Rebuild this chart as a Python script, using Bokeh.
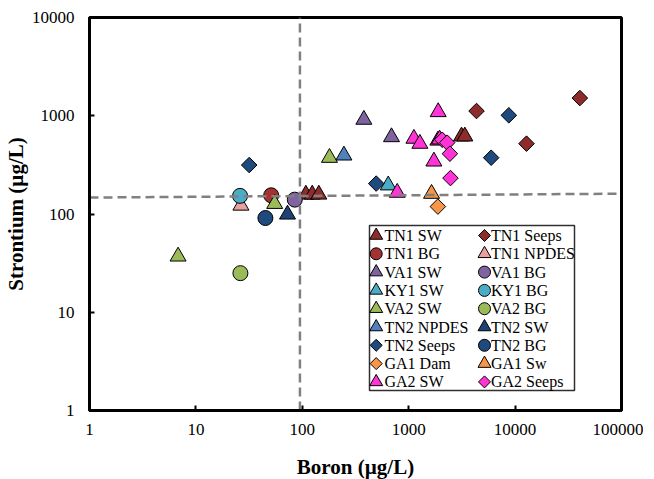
import numpy as np
from bokeh.plotting import figure
from bokeh.models import Range1d, FixedTicker, LinearScale, ColumnDataSource
from bokeh.core.properties import value
from bokeh.embed import file_html
from bokeh.resources import INLINE

# ---- data (µg/L) ----
tn1_sw_b = [108, 124, 143, 3135, 3370]
tn1_sw_sr = [158, 158, 158, 617, 617]
tn1_seeps_b = [4340, 12800, 40600]
tn1_seeps_sr = [1117, 520, 1514]
tn1_bg_b = [51]
tn1_bg_sr = [155]
tn1_npdes_b = [26.5]
tn1_npdes_sr = [122]
va1_sw_b = [379, 689]
va1_sw_sr = [913, 607]
va1_bg_b = [85]
va1_bg_sr = [140]
ky1_sw_b = [642]
ky1_sw_sr = [196]
ky1_bg_b = [26]
ky1_bg_sr = [153]
va2_sw_b = [6.8, 55, 180]
va2_sw_sr = [37, 127, 374]
va2_bg_b = [26.2]
va2_bg_sr = [25]
tn2_npdes_b = [246]
tn2_npdes_sr = [395]
tn2_sw_b = [72.6]
tn2_sw_sr = [99]
tn2_seeps_b = [31.7, 495, 5960, 8730]
tn2_seeps_sr = [315, 204, 374, 1010]
tn2_bg_b = [45]
tn2_bg_sr = [91]
ga1_dam_b = [1880]
ga1_dam_sr = [119]
ga1_sw_b = [1640]
ga1_sw_sr = [161]
ga2_sw_b = [1120, 1274, 1893, 1880, 1950, 1725, 780]
ga2_sw_sr = [585, 520, 1092, 560, 575, 343, 165]
ga2_seeps_b = [2065, 2300, 2440, 2470]
ga2_seeps_sr = [570, 532, 411, 232]

# threshold lines
vline_b = [95, 95]
vline_sr = [1, 10000]
hline_b = [1, 100000]
hline_sr = [147, 161]

x_ticks = [1, 10, 100, 1000, 10000, 100000]
x_tick_labels = ["1", "10", "100", "1000", "10000", "100000"]
y_ticks = [1, 10, 100, 1000, 10000]
y_tick_labels = ["1", "10", "100", "1000", "10000"]

series = [
    ("TN1 SW", tn1_sw_b, tn1_sw_sr, "triangle", "#8E2B2B"),
    ("TN1 Seeps", tn1_seeps_b, tn1_seeps_sr, "diamond", "#8E2B2B"),
    ("TN1 BG", tn1_bg_b, tn1_bg_sr, "circle", "#A33230"),
    ("TN1 NPDES", tn1_npdes_b, tn1_npdes_sr, "triangle", "#E8A0A0"),
    ("VA1 SW", va1_sw_b, va1_sw_sr, "triangle", "#7E63A0"),
    ("VA1 BG", va1_bg_b, va1_bg_sr, "circle", "#8064A2"),
    ("KY1 SW", ky1_sw_b, ky1_sw_sr, "triangle", "#4BACC6"),
    ("KY1 BG", ky1_bg_b, ky1_bg_sr, "circle", "#4BACC6"),
    ("VA2 SW", va2_sw_b, va2_sw_sr, "triangle", "#9BBB59"),
    ("VA2 BG", va2_bg_b, va2_bg_sr, "circle", "#9BBB59"),
    ("TN2 NPDES", tn2_npdes_b, tn2_npdes_sr, "triangle", "#4F81BD"),
    ("TN2 SW", tn2_sw_b, tn2_sw_sr, "triangle", "#1F4274"),
    ("TN2 Seeps", tn2_seeps_b, tn2_seeps_sr, "diamond", "#1F4A7E"),
    ("TN2 BG", tn2_bg_b, tn2_bg_sr, "circle", "#1F4A7E"),
    ("GA1 Dam", ga1_dam_b, ga1_dam_sr, "diamond", "#F79646"),
    ("GA1 Sw", ga1_sw_b, ga1_sw_sr, "triangle", "#F79646"),
    ("GA2 SW", ga2_sw_b, ga2_sw_sr, "triangle", "#FF33D6"),
    ("GA2 Seeps", ga2_seeps_b, ga2_seeps_sr, "diamond", "#FF33D6"),
]

FONT = "Liberation Serif"
FW, FH = 532, 393

p = figure(
    x_axis_type="log", y_axis_type="log",
    x_range=Range1d(1, 100000), y_range=Range1d(1, 10000),
    frame_width=FW, frame_height=FH,
    min_border_left=84, min_border_right=22, min_border_top=17, min_border_bottom=62,
    output_backend="svg", toolbar_location=None,
)
p.xgrid.visible = False
p.ygrid.visible = False
p.outline_line_color = "black"
p.outline_line_width = 3
p.background_fill_color = "white"
p.border_fill_color = "white"

MARK = {
    "circle": dict(marker="circle", size=15, angle=0.0),
    "triangle": dict(marker="triangle", size=16, angle=0.0),
    "diamond": dict(marker="square", size=11, angle=np.pi / 4),
}
for name, xs, ys, marker, color in series:
    p.scatter(xs, ys, fill_color=color, line_color="black", line_width=1, **MARK[marker])

p.line(vline_b, vline_sr, line_color="#808080", line_width=2.5, line_dash="9 5")
p.line(hline_b, hline_sr, line_color="#808080", line_width=2.5, line_dash="9 5")

for ax, ticks, labels in ((p.xaxis[0], x_ticks, x_tick_labels), (p.yaxis[0], y_ticks, y_tick_labels)):
    ax.ticker = FixedTicker(ticks=ticks, minor_ticks=[])
    ax.major_label_overrides = {t: l for t, l in zip(ticks, labels)}
    ax.axis_line_width = 3
    ax.axis_line_color = "black"
    ax.major_tick_in = 5
    ax.major_tick_out = 0
    ax.major_tick_line_width = 2
    ax.minor_tick_line_color = None
    ax.major_label_text_font = FONT
    ax.major_label_text_font_size = "17px"
    ax.major_label_text_color = "black"
    ax.axis_label_text_font = FONT
    ax.axis_label_text_font_size = "21px"
    ax.axis_label_text_font_style = "bold"
    ax.axis_label_text_color = "black"

p.xaxis.axis_label = "Boron (µg/L)"
p.yaxis.axis_label = "Strontium (µg/L)"
p.xaxis.major_label_standoff = 13
p.yaxis.major_label_standoff = 15
p.xaxis.axis_label_standoff = 17
p.yaxis.axis_label_standoff = 1

# ---- legend box (laid out in frame pixel coordinates, 2 columns, row-wise) ----
p.extra_x_ranges = {"leg": Range1d(0, FW)}
p.extra_y_ranges = {"leg": Range1d(0, FH)}
p.extra_x_scales = {"leg": LinearScale()}
p.extra_y_scales = {"leg": LinearScale()}

box_l, box_r, box_b, box_t = 280, 485, 20, 185
row0, pitch = 175, 18.3
col_glyph = [286.7, 395.0]
col_text = [295.0, 401.5]
LEGMARK = {
    "circle": ("circle", 12, 0.0),
    "triangle": ("triangle", 13, 0.0),
    "diamond": ("square", 8.5, np.pi / 4),
}
lg = dict(x=[], y=[], tx=[], label=[], marker=[], size=[], angle=[], color=[])
for i, (name, _, _, marker, color) in enumerate(series):
    r, c = divmod(i, 2)
    m, s, a = LEGMARK[marker]
    lg["x"].append(col_glyph[c])
    lg["tx"].append(col_text[c])
    lg["y"].append(row0 - pitch * r)
    lg["label"].append(name)
    lg["marker"].append(m)
    lg["size"].append(s)
    lg["angle"].append(a)
    lg["color"].append(color)
src = ColumnDataSource(lg)

p.quad(left=[box_l], right=[box_r], bottom=[box_b], top=[box_t],
       fill_color="white", line_color="#303030", line_width=1.5,
       x_range_name="leg", y_range_name="leg")
p.scatter(x="x", y="y", marker="marker", size="size", angle="angle",
          fill_color="color", line_color="black", line_width=1, source=src,
          x_range_name="leg", y_range_name="leg")
p.text(x="tx", y="y", text="label", source=src, text_font=value(FONT),
       text_font_size="16px", text_color="black", text_baseline="middle",
       text_align="left", x_range_name="leg", y_range_name="leg")

open("out.html", "w").write(file_html(p, INLINE))
